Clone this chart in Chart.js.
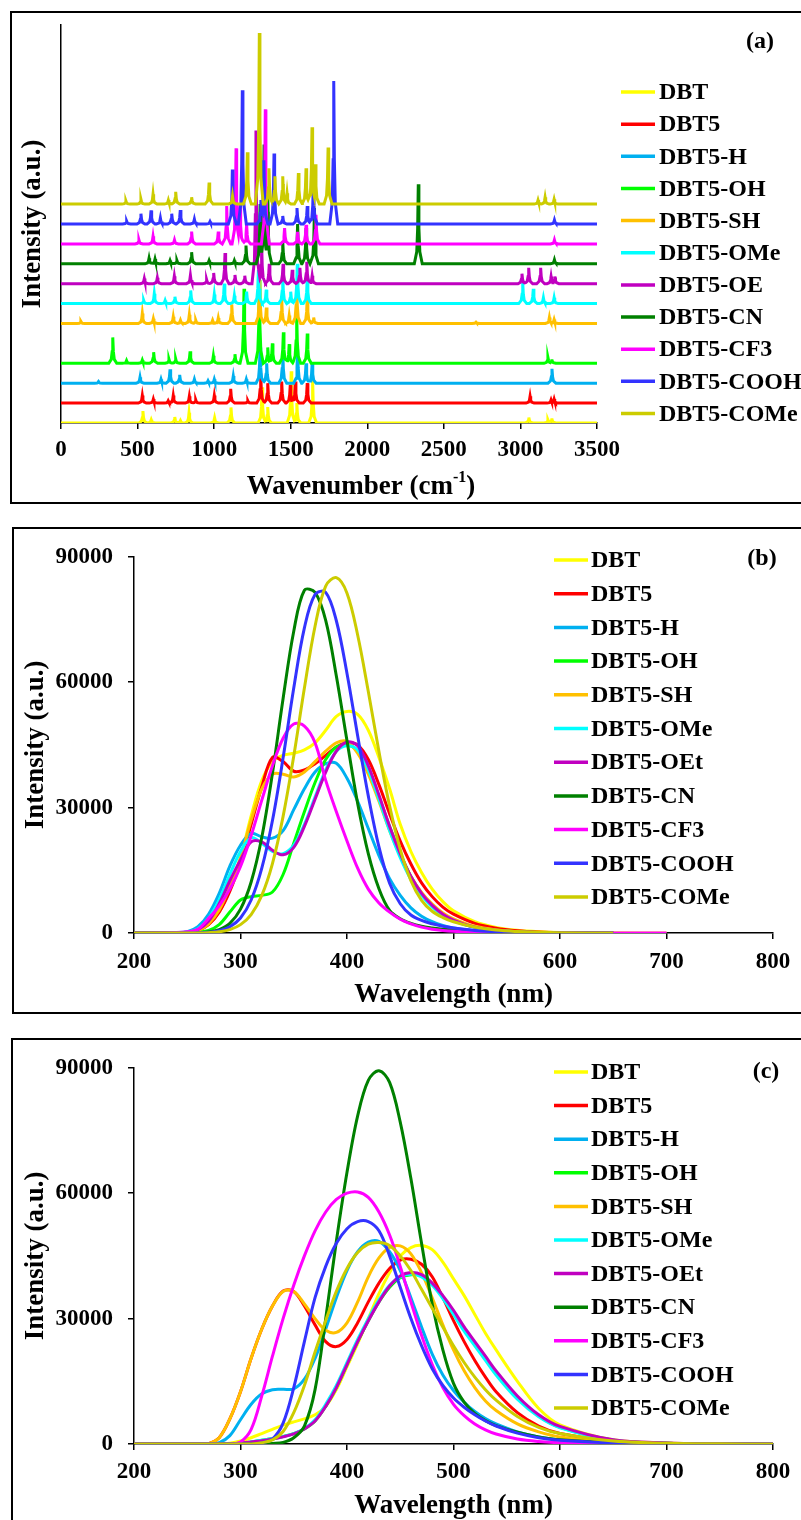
<!DOCTYPE html>
<html>
<head>
<meta charset="utf-8">
<script src="https://cdn.jsdelivr.net/npm/chart.js@4.4.0/dist/chart.umd.min.js"></script>
<style>
  body { margin: 0; background: #fff; width: 801px; height: 1520px; position: relative; overflow: hidden; }
  .box { position: absolute; border: 2px solid #000; box-sizing: border-box; }
  canvas { position: absolute; left: 0; }
</style>
</head>
<body>
<div class="box" style="left:10px;top:11px;width:800px;height:493px"></div>
<div class="box" style="left:12px;top:527px;width:800px;height:487px"></div>
<div class="box" style="left:11px;top:1038px;width:800px;height:500px"></div>
<canvas id="irChart" width="801" height="491" style="top:12px"></canvas>
<canvas id="absChart" width="801" height="485" style="top:528px"></canvas>
<canvas id="emChart" width="801" height="481" style="top:1039px"></canvas>
<script>
// series names + colours (same order in all three panels)
var seriesNames = ['DBT', 'DBT5', 'DBT5-H', 'DBT5-OH', 'DBT5-SH', 'DBT5-OMe', 'DBT5-OEt', 'DBT5-CN', 'DBT5-CF3', 'DBT5-COOH', 'DBT5-COMe'];
var irNames = ['DBT', 'DBT5', 'DBT5-H', 'DBT5-OH', 'DBT5-SH', 'DBT5-OMe', 'DBT5-OE', 'DBT5-CN', 'DBT5-CF3', 'DBT5-COOH', 'DBT5-COMe'];
var seriesColors = ['#FFFF00', '#FF0000', '#00B0F0', '#00FF00', '#FFC000', '#00FFFF', '#C000C0', '#008000', '#FF00FF', '#3333FF', '#CCCC00'];

// (a) IR spectra: peaks [wavenumber, height], each trace shifted up by its offset
var irTicks = [0, 500, 1000, 1500, 2000, 2500, 3000, 3500];
var irOffsets = [0, 5, 10, 15, 25, 30, 35, 40, 45, 50, 55];
var irDBT = [[535,3],[589,0.8],[743,1.5],[780,0.6],[836,2.6],[1003,1.3],[1110,3.9],[1313,9],[1350,4],[1503,13],[1540,5],[1643,11],[3055,1.4],[3180,0.8],[3205,1.2]];
var irDBT5 = [[531,1.9],[603,1],[700,0.6],[733,1.9],[838,1.7],[880,0.8],[1001,1.9],[1108,3.6],[1220,0.6],[1304,7.5],[1350,5],[1441,5.4],[1497,4.5],[1530,5.4],[1608,5],[3063,1.7],[3200,0.8],[3220,1]];
var irH = [[245,0.4],[516,1.5],[653,1],[712,3.5],[775,2.1],[871,1],[960,0.6],[1001,1],[1125,1.8],[1210,1],[1300,9],[1343,5],[1448,8],[1545,8.5],[1600,5],[1640,5],[3206,3.6]];
var irOH = [[338,6.5],[428,0.7],[531,0.8],[605,2.8],[705,1],[749,1.1],[843,3],[995,1.9],[1136,2.3],[1195,18.7],[1295,21],[1350,4],[1380,5],[1452,7.8],[1490,4.8],[1539,12.4],[1608,7.5],[3180,1.5],[3205,1]];
var irSH = [[130,0.5],[531,2.5],[603,1.2],[733,1.7],[780,0.8],[838,2.2],[880,0.8],[990,0.8],[1027,1.4],[1115,4.8],[1297,11],[1341,4],[1441,6.2],[1490,2],[1539,10],[1608,6.6],[1650,1.5],[2710,0.3],[3189,1.5],[3220,1]];
var irOMe = [[540,0.8],[609,2.5],[680,0.8],[744,1.7],[847,3.3],[1001,2.3],[1066,5],[1132,2],[1212,3],[1289,8.5],[1340,3.5],[1448,6.9],[1500,3],[1543,10],[1608,6.4],[3015,5.2],[3084,3.7],[3150,1.5],[3220,1.5]];
var irOE = [[544,1.3],[629,1.5],[740,1.9],[845,2.1],[951,1],[997,2.7],[1071,7.7],[1136,2.2],[1200,2],[1273,38.5],[1310,10],[1360,5],[1450,5],[1510,3.5],[1560,4],[1605,5.5],[1640,2],[3010,2.5],[3054,4],[3132,4],[3200,1.8],[3225,1.8]];
var irCN = [[575,1.4],[614,1.2],[712,0.8],[757,0.8],[853,2.9],[967,0.8],[1132,0.8],[1208,4.6],[1300,15],[1326,30],[1350,18],[1448,5.6],[1545,10],[1600,9],[1655,14],[2333,20],[3222,1]];
var irCF3 = [[509,1],[601,1.9],[741,1],[853,3.1],[1027,3.1],[1082,9.5],[1143,24],[1169,10],[1212,5],[1334,33.8],[1460,4],[1545,3],[1600,4.8],[1665,7.3],[3222,1]];
var irCOOH = [[429,0.7],[522,2.6],[588,3.4],[649,1.5],[723,2.6],[779,3.5],[871,1.2],[973,0.6],[1119,13.7],[1184,33.6],[1305,6],[1325,16],[1391,17.7],[1448,2],[1541,4],[1608,4.5],[1648,10.4],[1781,35.9],[3222,1]];
var irCOMe = [[424,0.8],[522,1.2],[601,2.5],[701,1],[749,3.1],[853,1.7],[967,5.4],[1120,2],[1217,13],[1295,43],[1358,9],[1397,7],[1448,7],[1476,2.7],[1550,7.8],[1600,9],[1639,19.3],[1661,10],[1744,14.2],[3115,1],[3161,1.7],[3220,1.2]];
var irPeaks = [irDBT, irDBT5, irH, irOH, irSH, irOMe, irOE, irCN, irCF3, irCOOH, irCOMe];

// (b) absorption, intensity vs wavelength
var wlTicks = [200, 300, 400, 500, 600, 700, 800];
var intTicks = [0, 30000, 60000, 90000];
var wlB = [200,240,250,260,270,280,290,300,310,320,330,340,350,360,370,380,390,400,410,420,430,440,450,460,470,480,490,500,520,540,560,580,600,650,700];
var absDBT = [0,0,100,500,2000,5000,10500,18000,28000,36500,41000,42500,43000,43800,45500,48500,51800,53000,52300,48500,42000,34500,26000,19500,14500,10500,7500,5300,2700,1350,650,300,140,30,0];
var absDBT5 = [0,0,100,600,2000,5000,10000,17000,26000,35000,42000,41000,38700,39000,40500,42500,44500,45500,45000,41500,35500,28500,22000,16500,12000,8700,6200,4500,2300,1150,550,250,120,0,null];
var absH = [0,100,300,1500,4500,9500,16000,21000,23800,23000,22700,24500,29500,34500,38500,40500,40600,37000,31500,25000,18500,13000,9000,6000,4000,2700,1800,1200,550,250,100,40,10,0,null];
var absOH = [0,0,0,200,600,2000,5000,7900,8700,9000,9800,14000,21500,29000,36000,41500,44500,45000,43500,39000,32500,25500,19000,13500,9500,6600,4500,3100,1400,650,300,130,50,0,null];
var absSH = [0,0,100,600,2200,5500,11000,18000,27000,34500,38000,38000,37300,38500,41000,43500,45500,45800,43000,38000,31500,24500,18500,13500,9700,6900,4800,3400,1600,750,350,150,60,0,null];
var absOMe = [0,100,250,1000,3500,8000,14000,19500,22800,21500,19500,19000,21000,26000,32500,39000,43500,44800,43800,39000,32000,24500,18000,12800,9000,6200,4300,2900,1300,600,250,100,40,0,null];
var absOEt = [0,100,200,800,2800,7000,12500,17500,21800,21800,19800,18700,20500,25500,32000,38500,43500,45700,44800,40000,33000,25500,19000,13500,9500,6600,4500,3100,1400,650,300,130,50,0,null];
var absCN = [0,0,0,30,270,830,2300,5700,12200,22900,38200,56100,72200,82000,81500,74800,61500,46000,31000,19000,10600,5400,3400,2300,1600,1200,900,650,300,120,50,20,0,0,null];
var absCF3 = [0,100,300,900,3500,6500,10500,15900,23300,31800,40000,46600,50000,49500,45500,36500,29000,22000,15500,10500,7200,5000,3300,2200,1400,900,600,400,150,50,0,0,0,0,0];
var absCOOH = [0,0,0,50,180,550,1500,3600,7900,15500,26900,41900,58600,73000,81000,81500,74700,62100,47200,32800,20600,11900,7000,4300,3000,2200,1600,1200,600,300,120,50,20,0,null];
var absCOMe = [0,0,0,0,90,290,800,2000,4400,9000,16600,27900,42300,58600,73400,83000,85000,81300,71300,57800,43400,30400,20000,12500,7800,5200,3700,2700,1400,700,350,150,60,0,null];
var absSeries = [absDBT, absDBT5, absH, absOH, absSH, absOMe, absOEt, absCN, absCF3, absCOOH, absCOMe];

// (c) emission
var wlC = [200,250,260,270,280,290,300,310,320,330,340,350,360,370,380,390,400,410,420,430,440,450,460,470,480,490,500,510,520,530,540,560,580,600,650,700,750,800];
var emDBT = [0,0,0,0,0,200,700,1500,2500,3500,4500,5300,6000,7000,9000,13000,18500,24000,30000,36000,41000,45000,47000,47500,46500,43500,39500,35500,31000,26500,22500,15000,8500,4600,1000,250,60,0];
var emDBT5 = [0,0,0,100,1500,6000,12500,20500,27500,33000,36600,36500,33000,28500,24500,23300,25000,29000,34000,38500,42000,44000,44200,43000,40000,35000,29500,24500,20000,16000,12500,7500,4300,2500,600,150,40,0];
var emH = [0,0,0,0,300,2000,5800,9500,12000,13000,13100,13200,15500,20500,27500,35000,41500,46000,48300,48500,46000,41500,35000,28000,21500,16500,12800,10000,7800,6100,4800,2900,1700,1000,300,80,20,0];
var emOH = [0,0,0,0,0,0,200,500,900,1300,1800,2500,3600,5500,9000,13500,19000,24500,29500,34000,37500,39800,40500,40200,38300,35200,31500,27500,24000,20500,17000,11000,6700,4000,900,200,50,0];
var emSH = [0,0,0,100,1500,6000,12500,20500,27500,33000,36500,36500,33500,30000,27200,26700,29000,34000,40000,44500,47000,47400,45500,41000,35000,28500,22500,17500,13500,10300,8000,4800,2900,1700,400,100,25,0];
var emOMe = [0,0,0,0,0,0,200,500,900,1300,1800,2500,3700,5800,9500,14000,19500,25000,30000,34500,38000,40000,40600,40000,38000,34800,31000,27000,23500,20000,16500,10700,6500,3900,900,200,50,0];
var emOEt = [0,0,0,0,0,0,200,500,800,1200,1700,2400,3600,5500,9000,13500,19000,24500,29500,34000,37800,40200,41000,40500,38500,35500,32000,28000,24500,21000,17500,11500,7000,4200,1000,250,60,0];
var emCN = [0,0,0,0,0,0,0,0,0,150,400,1500,4300,13000,30000,48500,65000,78500,87000,89300,86500,77000,63500,48000,33500,22500,14500,10000,7300,5600,4400,2800,1700,1000,250,60,15,0];
var emCF3 = [0,0,0,0,0,0,500,3500,11500,21000,30000,38000,45000,51000,55500,58500,60000,60300,59000,55500,50000,42500,34000,26000,19000,13500,9500,6800,4800,3400,2400,1200,600,300,50,0,0,0];
var emCOOH = [0,0,0,0,0,0,0,0,300,1200,5000,13500,24500,35000,42500,48000,51500,53200,53200,51000,45000,37500,30000,23500,18000,14000,11000,8800,7000,5500,4300,2600,1500,900,250,60,15,0];
var emCOMe = [0,0,0,0,0,0,0,0,300,1000,3000,7500,14000,22000,29500,36500,42000,45800,47800,48200,47500,45000,41500,37000,32500,28000,23500,19500,16000,13000,10500,6600,4000,2500,700,200,50,0];
var emSeries = [emDBT, emDBT5, emH, emOH, emSH, emOMe, emOEt, emCN, emCF3, emCOOH, emCOMe];

var serif = '"Liberation Serif", "Times New Roman", serif';
var tickFont = { family: serif, size: 23, weight: 'bold' };
var titleFont = { family: serif, size: 27, weight: 'bold', lineHeight: 1 };

// peak outline: [distance from centre (cm-1), fraction of peak height]
var irShape = [[0, 1], [4, 0.45], [10, 0.15], [26, 0]];

function profile(d) {
  for (var k = 1; k < irShape.length; k++) {
    if (d <= irShape[k][0]) {
      var a = irShape[k - 1], b = irShape[k];
      return a[1] + (b[1] - a[1]) * (d - a[0]) / (b[0] - a[0]);
    }
  }
  return 0;
}

// each trace: its peaks on a flat baseline, overlapping peaks take the higher outline
function irPoints(peaks, base) {
  var xs = [0, 3500];
  peaks.forEach(function (p) {
    irShape.forEach(function (s) { xs.push(p[0] - s[0], p[0] + s[0]); });
  });
  xs = xs.filter(function (x, i) { return x >= 0 && x <= 3500 && xs.indexOf(x) === i; }).sort(function (a, b) { return a - b; });
  return xs.map(function (x) {
    var y = 0;
    peaks.forEach(function (p) { y = Math.max(y, p[1] * profile(Math.abs(x - p[0]))); });
    return { x: x, y: base + y };
  });
}

function curve(wl, vals) {
  var pts = [];
  wl.forEach(function (x, i) { if (vals[i] !== null) pts.push({ x: x, y: vals[i] }); });
  return pts;
}

// legend, panel letter and (optionally) a hand-set axis title
function overlay(o) {
  return {
    id: 'overlay',
    afterDraw: function (chart) {
      var ctx = chart.ctx;
      ctx.save();
      ctx.font = 'bold 24px ' + serif;
      ctx.textBaseline = 'middle';
      o.names.forEach(function (n, i) {
        var y = o.y0 + i * o.dy;
        ctx.strokeStyle = seriesColors[i];
        ctx.lineWidth = 3.5;
        ctx.beginPath();
        ctx.moveTo(o.x1, y);
        ctx.lineTo(o.x2, y);
        ctx.stroke();
        ctx.fillStyle = '#000';
        ctx.textAlign = 'left';
        ctx.fillText(n, o.tx, y + 1);
      });
      ctx.textAlign = 'center';
      ctx.fillText(o.tag, o.tagX, o.tagY);
      if (o.irTitle) {
        var a = 'Wavenumber (cm', s = '-1', b = ')';
        ctx.font = 'bold 27px ' + serif;
        var wa = ctx.measureText(a).width, wb = ctx.measureText(b).width;
        ctx.font = 'bold 16px ' + serif;
        var ws = ctx.measureText(s).width;
        var x = o.irTitle.x - (wa + ws + wb) / 2, y = o.irTitle.y;
        ctx.textAlign = 'left';
        ctx.font = 'bold 27px ' + serif;
        ctx.fillText(a, x, y);
        ctx.font = 'bold 16px ' + serif;
        ctx.fillText(s, x + wa, y - 9);
        ctx.font = 'bold 27px ' + serif;
        ctx.fillText(b, x + wa + ws, y);
      }
      ctx.restore();
    }
  };
}

function plain(v) { return String(v); }

function options(p) {
  return {
    responsive: false,
    animation: false,
    devicePixelRatio: 1,
    layout: { padding: { left: 0, top: p.top, right: p.right, bottom: 0 } },
    plugins: { legend: { display: false }, tooltip: { enabled: false } },
    elements: { point: { radius: 0 } },
    scales: {
      x: {
        type: 'linear', min: p.xMin, max: p.xMax,
        afterBuildTicks: function (s) { s.ticks = p.xTicks.map(function (v) { return { value: v }; }); },
        afterFit: function (s) { s.height = p.xAxisH; },
        grid: { drawOnChartArea: false, drawTicks: true, tickLength: 6, color: '#000', tickColor: '#000', lineWidth: 1.5 },
        border: { display: true, color: '#000', width: 1.5 },
        ticks: { color: '#000', font: tickFont, padding: p.xTickPad, maxRotation: 0, autoSkip: false, callback: plain },
        title: p.xTitle ? { display: true, text: p.xTitle, color: '#000', font: titleFont, padding: { top: 0, bottom: p.xTitlePad } } : { display: false }
      },
      y: {
        type: 'linear', min: 0, max: p.yMax,
        afterBuildTicks: function (s) { if (p.yTicks) s.ticks = p.yTicks.map(function (v) { return { value: v }; }); },
        afterFit: function (s) { s.width = p.yAxisW; },
        grid: { drawOnChartArea: false, drawTicks: !!p.yTicks, tickLength: 6, color: '#000', tickColor: '#000', lineWidth: 1.5 },
        border: { display: true, color: '#000', width: 1.5 },
        ticks: { display: !!p.yTicks, color: '#000', font: tickFont, padding: 15, autoSkip: false, callback: plain },
        title: { display: true, text: 'Intensity (a.u.)', color: '#000', font: titleFont, padding: { top: p.yTitlePad, bottom: 0 } }
      }
    }
  };
}

// (a)
new Chart(document.getElementById('irChart'), {
  type: 'line',
  data: {
    datasets: irPeaks.map(function (pk, i) {
      return { label: irNames[i], data: irPoints(pk, irOffsets[i]), borderColor: seriesColors[i], borderWidth: 3, tension: 0, fill: false, order: -i };
    })
  },
  options: options({ top: 13, right: 204, xMin: 0, xMax: 3500, xTicks: irTicks, xAxisH: 80, xTickPad: 7, yMax: 100, yAxisW: 61, yTitlePad: 19.5 }),
  plugins: [overlay({ names: irNames, x1: 621, x2: 655, tx: 659, y0: 80, dy: 32.15, tag: '(a)', tagX: 760, tagY: 30, irTitle: { x: 361, y: 475 } })]
});

// (b)
new Chart(document.getElementById('absChart'), {
  type: 'line',
  data: {
    datasets: absSeries.map(function (v, i) {
      return { label: seriesNames[i], data: curve(wlB, v), borderColor: seriesColors[i], borderWidth: 3, tension: 0.35, fill: false, order: -i };
    })
  },
  options: options({ top: 19, right: 28, xMin: 200, xMax: 800, xTicks: wlTicks, xAxisH: 80, xTickPad: 9, xTitle: 'Wavelength (nm)', xTitlePad: 4.5, yMax: 90000, yTicks: intTicks, yAxisW: 134, yTitlePad: 22.5 }),
  plugins: [overlay({ names: seriesNames, x1: 554, x2: 588, tx: 591, y0: 32, dy: 33.7, tag: '(b)', tagX: 762, tagY: 31 })]
});

// (c)
new Chart(document.getElementById('emChart'), {
  type: 'line',
  data: {
    datasets: emSeries.map(function (v, i) {
      return { label: seriesNames[i], data: curve(wlC, v), borderColor: seriesColors[i], borderWidth: 3, tension: 0.35, fill: false, order: -i };
    })
  },
  options: options({ top: 20, right: 28, xMin: 200, xMax: 800, xTicks: wlTicks, xAxisH: 76, xTickPad: 8, xTitle: 'Wavelength (nm)', xTitlePad: 0, yMax: 90000, yTicks: intTicks, yAxisW: 134, yTitlePad: 22.5 }),
  plugins: [overlay({ names: seriesNames, x1: 554, x2: 588, tx: 591, y0: 33, dy: 33.6, tag: '(c)', tagX: 766, tagY: 33 })]
});
</script>
</body>
</html>
